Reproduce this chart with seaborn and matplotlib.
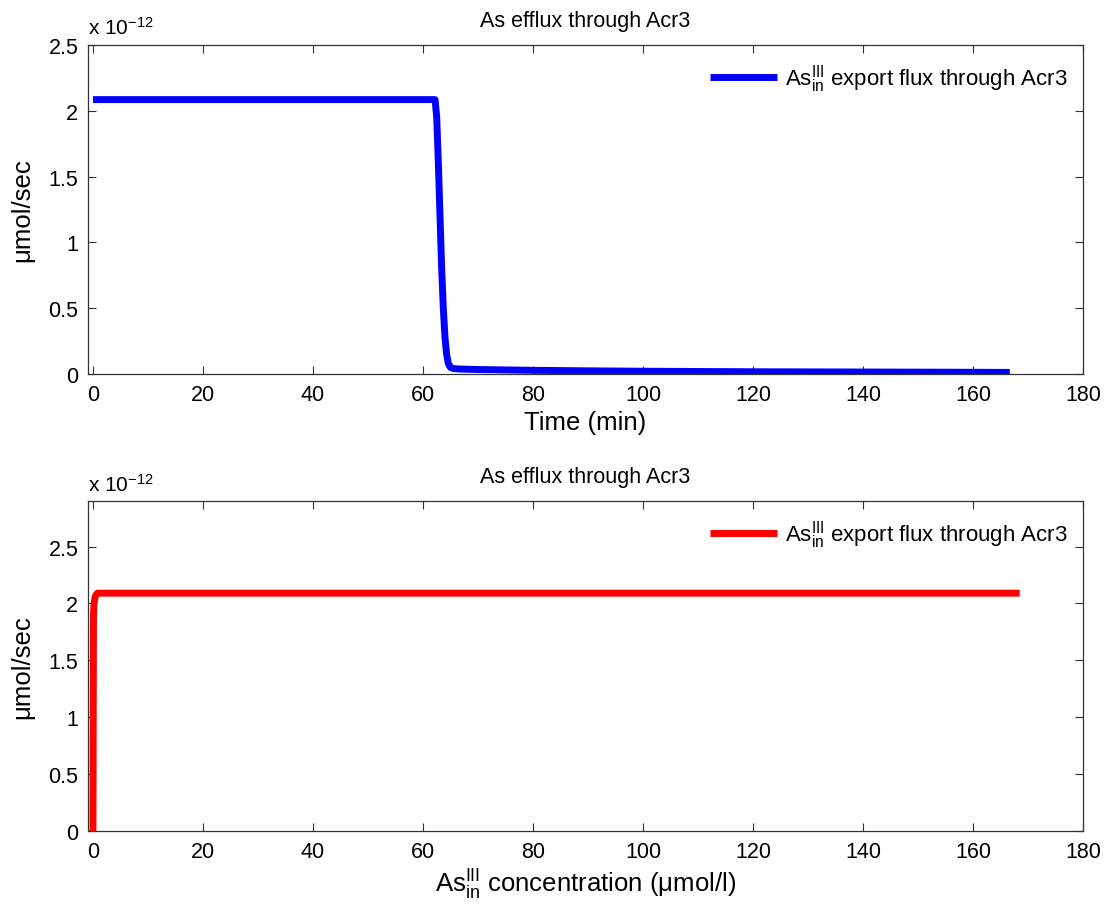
import matplotlib
matplotlib.use("Agg")
import matplotlib.pyplot as plt
import seaborn as sns
import pandas as pd

# ---- data (flux values in units of 1e-12 umol/sec) ----
time_min = [0, 10, 20, 30, 40, 50, 60, 62.2, 62.5, 62.8, 63.1, 63.4, 63.7, 64.0, 64.3, 64.6, 65.0, 65.5, 66.5, 70, 80, 90, 100, 110, 120, 130, 140, 150, 160, 166.7]
flux_time = [2.085, 2.085, 2.085, 2.085, 2.085, 2.085, 2.085, 2.085, 1.95, 1.60, 1.20, 0.80, 0.50, 0.28, 0.15, 0.08, 0.05, 0.042, 0.038, 0.034, 0.028, 0.024, 0.021, 0.019, 0.017, 0.016, 0.015, 0.014, 0.013, 0.012]

conc_umol = [0.0, 0.05, 0.1, 0.2, 0.4, 0.8, 10, 40, 80, 120, 160, 168.5]
flux_conc = [0.0, 1.0, 1.9, 2.0, 2.06, 2.09, 2.09, 2.09, 2.09, 2.09, 2.09, 2.09]

x_ticks = [0, 20, 40, 60, 80, 100, 120, 140, 160, 180]
y_ticks = [0, 0.5, 1, 1.5, 2, 2.5]
y_tick_labels = ["0", "0.5", "1", "1.5", "2", "2.5"]

title_text = "As efflux through Acr3"
legend_label = r"As$_{\mathrm{in}}^{\mathrm{III}}$ export flux through Acr3"
ylabel_text = "μmol/sec"
xlabel_top = "Time (min)"
xlabel_bottom = r"As$_{\mathrm{in}}^{\mathrm{III}}$ concentration (μmol/l)"
offset_text = r"x 10$^{\mathrm{-12}}$"

sns.set_style("white")
plt.rcParams["font.family"] = ["Liberation Sans", "DejaVu Sans"]
plt.rcParams["mathtext.fontset"] = "custom"
plt.rcParams["mathtext.rm"] = "Liberation Sans"
plt.rcParams["mathtext.it"] = "Liberation Sans:italic"
plt.rcParams["mathtext.bf"] = "Liberation Sans:bold"
plt.rcParams["text.color"] = "black"
plt.rcParams["axes.labelcolor"] = "black"

W, H = 1110, 912
fig = plt.figure(figsize=(W / 100, H / 100), dpi=100)
ax1 = fig.add_axes([88 / W, 1 - 375 / H, 995 / W, 329 / H])
ax2 = fig.add_axes([88 / W, 1 - 832 / H, 995 / W, 330 / H])

df1 = pd.DataFrame({"x": time_min, "y": flux_time})
df2 = pd.DataFrame({"x": conc_umol, "y": flux_conc})

sns.lineplot(data=df1, x="x", y="y", ax=ax1, color="#0000ff", linewidth=5,
             sort=False, estimator=None, label=legend_label)
sns.lineplot(data=df2, x="x", y="y", ax=ax2, color="#ff0000", linewidth=5,
             sort=False, estimator=None, label=legend_label)
for ax in (ax1, ax2):
    for ln in ax.get_lines():
        ln.set_solid_capstyle("butt")
        ln.set_solid_joinstyle("round")

for ax, ylim, xl, off_y in [(ax1, (0, 2.5), xlabel_top, 35), (ax2, (0, 2.9), xlabel_bottom, 492)]:
    ax.set_xlim(-0.9, 180)
    ax.set_ylim(*ylim)
    ax.set_xticks(x_ticks)
    ax.set_xticklabels([str(t) for t in x_ticks])
    ax.set_yticks(y_ticks)
    ax.set_yticklabels(y_tick_labels)
    ax.tick_params(direction="in", length=6, width=0.8, colors="#333333",
                   labelcolor="black", labelsize=15.5, top=True, right=True,
                   bottom=True, left=True, pad=7)
    for s in ax.spines.values():
        s.set_visible(True)
        s.set_color("#333333")
        s.set_linewidth(0.9)
    ax.set_title(title_text, fontsize=15.5, pad=14, color="black")
    ax.set_ylabel(ylabel_text, fontsize=18.5, labelpad=10)
    ax.set_xlabel(xl, fontsize=18.5, labelpad=4)
    leg = ax.legend(loc="upper right", bbox_to_anchor=(1.0, 0.995), frameon=False,
                    fontsize=16, handlelength=3.0, handletextpad=0.35,
                    borderaxespad=0.3)
    for h in leg.get_lines():
        h.set_linewidth(5)
        h.set_solid_capstyle("butt")
    fig.text(88 / W, 1 - off_y / H, offset_text, fontsize=15, ha="left", va="baseline")

fig.savefig("out.png", dpi=100, facecolor="white")
